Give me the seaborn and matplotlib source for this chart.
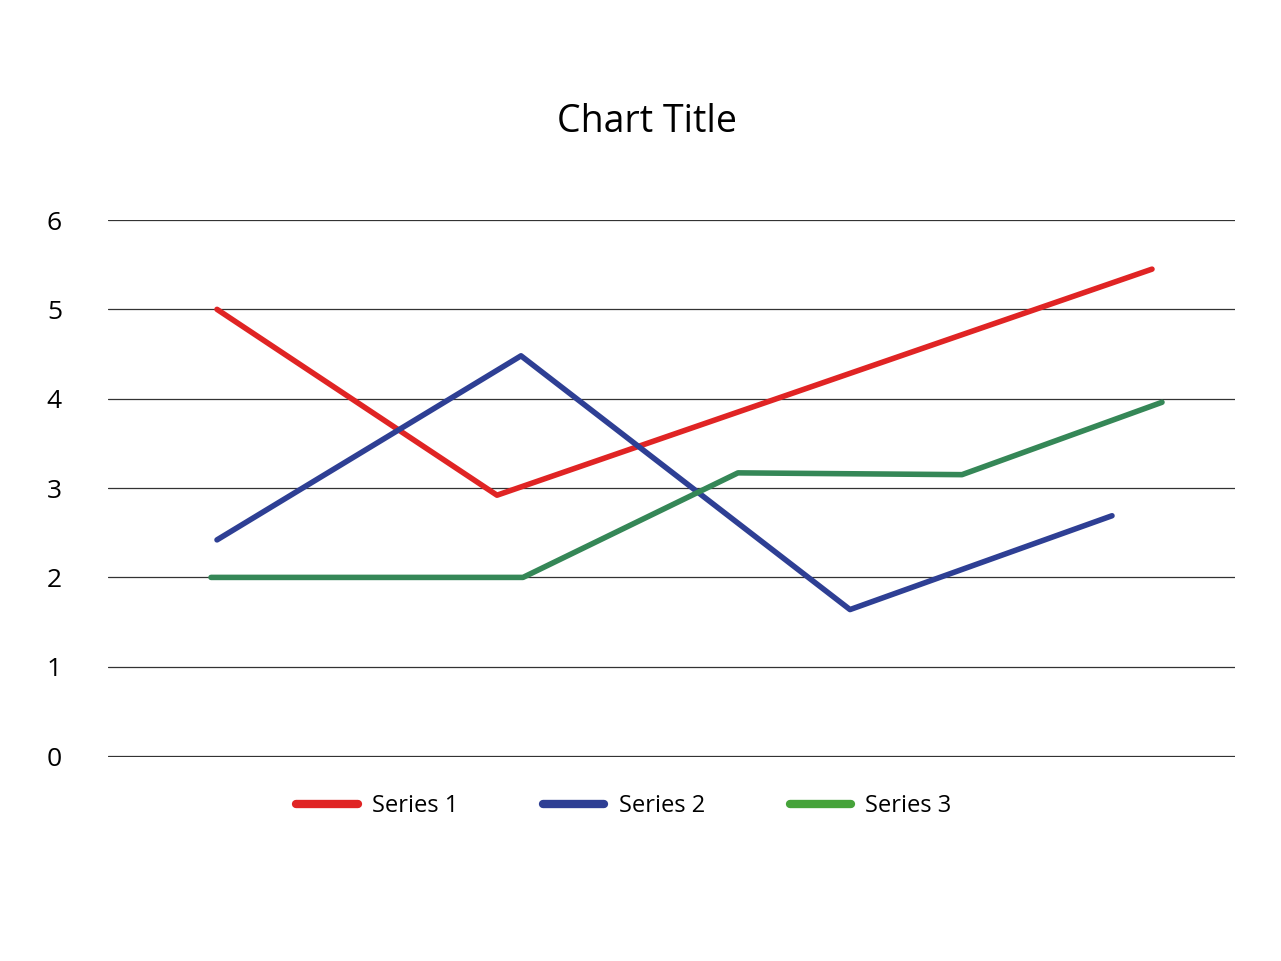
import matplotlib
matplotlib.use("Agg")
import matplotlib.pyplot as plt
import seaborn as sns
from matplotlib.lines import Line2D

s1_x = [217, 497, 1152]
s1_y = [5.0, 2.92, 5.45]
s2_x = [217, 521, 850, 1112]
s2_y = [2.42, 4.48, 1.64, 2.69]
s3_x = [211, 523, 738, 962, 1162]
s3_y = [2.0, 2.0, 3.17, 3.15, 3.96]
labels = ["Series 1", "Series 2", "Series 3"]
colors = ["#e02424", "#2e3f94", "#358757"]
legend_colors = ["#e02424", "#2e3f94", "#46a33a"]

sns.set_style("white")
plt.rcParams['font.family'] = ['Open Sans', 'DejaVu Sans']
plt.rcParams['text.color'] = 'black'

fig = plt.figure(figsize=(12.81, 9.61), dpi=100)
ax = fig.add_axes([108/1281, 1-757/961, (1235-108)/1281, (757-220)/961])
for xs, ys, c in zip([s1_x, s2_x, s3_x], [s1_y, s2_y, s3_y], colors):
    sns.lineplot(x=xs, y=ys, ax=ax, color=c, lw=4, sort=False, estimator=None)
ax.set_xlim(108, 1235)
ax.set_ylim(-0.01, 6)
ax.set_yticks(range(7))
ax.set_xticks([])
ax.yaxis.grid(True, color="#333333", lw=0.9)
for s in ax.spines.values():
    s.set_visible(False)
ax.tick_params(axis='y', length=0, pad=53, labelsize=19, labelcolor='black')
for t in ax.get_yticklabels():
    t.set_horizontalalignment('center')
ax.tick_params(axis='y', pad=53)
for t in ax.get_yticklabels():
    t.set_x(-0.0)
fig.text(0.505, 1-122/961, "Chart Title", ha='center', va='center', fontsize=27, color='black')
handles = [Line2D([], [], color=c, lw=6, solid_capstyle='round') for c in legend_colors]
fig.legend(handles, labels, loc='center', bbox_to_anchor=(0.487, 1-806/961), ncol=3,
           frameon=False, fontsize=17, handlelength=2.6, columnspacing=3.6, handletextpad=0.6,
           labelcolor='black')
fig.canvas.draw()
# shift tick labels so they center near x=55 px
from matplotlib.transforms import ScaledTranslation
off = ScaledTranslation(20/100, 0, fig.dpi_scale_trans)
for t in ax.get_yticklabels():
    t.set_transform(t.get_transform() + off)
fig.savefig("out.png", dpi=100, facecolor="white")
